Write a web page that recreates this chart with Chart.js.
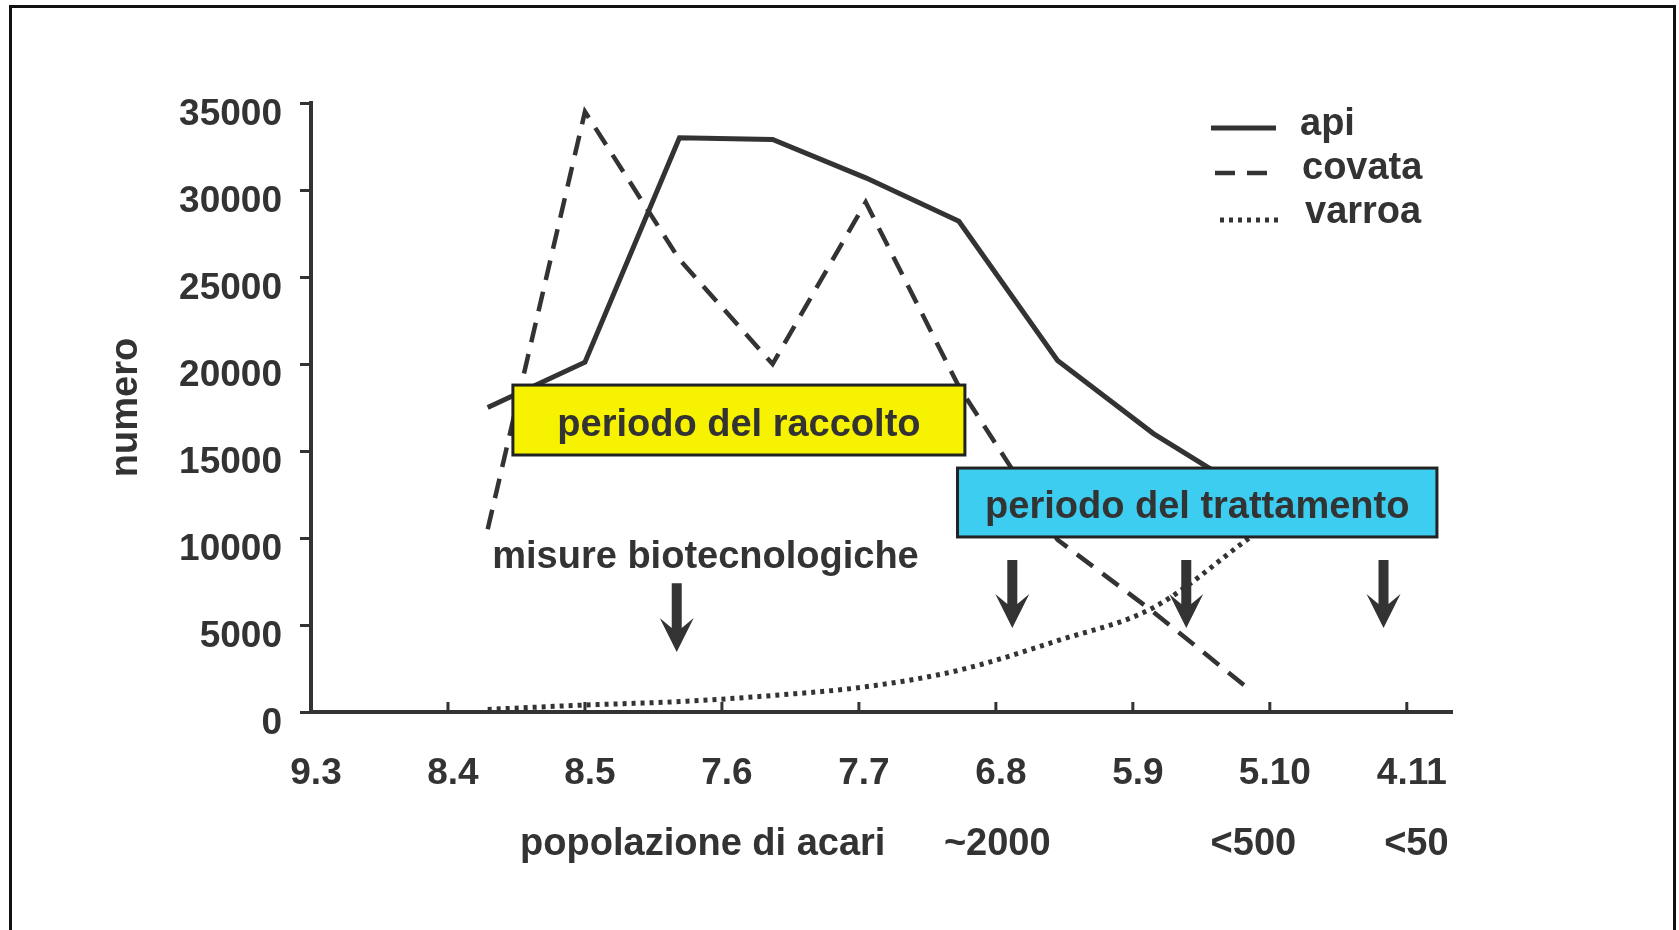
<!DOCTYPE html>
<html>
<head>
<meta charset="utf-8">
<script src="https://cdn.jsdelivr.net/npm/chart.js@4.4.1/dist/chart.umd.min.js"></script>
<style>
  html, body { margin: 0; padding: 0; background: #ffffff; }
  #wrap { position: relative; width: 1679px; height: 930px; overflow: hidden; background: #fff; }
  #c { position: absolute; left: 0; top: 0; }
  #frame { position: absolute; left: 9px; top: 5px; width: 1667px; height: 1000px;
           border: 3px solid #111; box-sizing: border-box; pointer-events: none; }
</style>
</head>
<body>
<div id="wrap">
  <canvas id="c" width="1679" height="930"></canvas>
  <div id="frame"></div>
</div>
<script>
// ---------------- data ----------------
const tickLabels = ['9.3', '8.4', '8.5', '7.6', '7.7', '6.8', '5.9', '5.10', '4.11'];
const sampleX    = [1.29, 2.0, 2.69, 3.37, 4.05, 4.73, 5.45, 6.15, 6.85];
const api        = [17500, 20100, 33000, 32900, 30700, 28200, 20200, 16000, 12600];
const covata     = [10500, 34500, 26000, 20000, 29300, 18700, 9900, 5750, 1300];
const varroa     = [150, 400, 600, 950, 1450, 2400, 4100, 6000, 10000];
const yTicks     = [0, 5000, 10000, 15000, 20000, 25000, 30000, 35000];
const seriesNames = ['api', 'covata', 'varroa'];
const yTitle = 'numero';
const mitePopLabels = ['popolazione di acari', '~2000', '<500', '<50'];
const mitePopX      = [2.86, 5.01, 6.88, 8.07];
const periodLabels  = ['periodo del raccolto', 'periodo del trattamento'];
const periodX       = [[1.474, 4.774], [4.72, 8.22]];
const periodY       = [[14770, 18790], [10060, 14020]];
const measuresLabel = 'misure biotecnologiche';
const measuresAt    = [2.88, 8850];
const arrowX        = [2.67, 5.12, 6.39, 7.83];
const arrowTop      = [7400, 8740, 8740, 8740];
const arrowTip      = [3450, 4830, 4830, 4830];

// ---------------- styles ----------------
const INK = '#333333';
const FONT = "'Liberation Sans', Arial, Helvetica, sans-serif";
const periodColors = ['#f7f200', '#3ccdf0'];

function pts(arr) { return sampleX.map((x, i) => ({ x: x, y: arr[i] })); }

const overlay = {
  id: 'overlay',
  afterDatasetsDraw(chart) {
    const { ctx, scales: { x, y } } = chart;
    ctx.save();
    // inward x ticks
    ctx.strokeStyle = INK; ctx.lineWidth = 3; ctx.setLineDash([]);
    x.ticks.forEach((t, i) => {
      if (i === 0) return;
      const px = x.getPixelForValue(t.value);
      ctx.beginPath(); ctx.moveTo(px, y.bottom); ctx.lineTo(px, y.bottom - 10); ctx.stroke();
    });
    // period boxes
    ctx.font = 'bold 38px ' + FONT;
    ctx.textAlign = 'center'; ctx.textBaseline = 'middle';
    periodLabels.forEach((txt, i) => {
      const x0 = x.getPixelForValue(periodX[i][0]), x1 = x.getPixelForValue(periodX[i][1]);
      const y0 = y.getPixelForValue(periodY[i][1]), y1 = y.getPixelForValue(periodY[i][0]);
      ctx.fillStyle = periodColors[i];
      ctx.fillRect(x0, y0, x1 - x0, y1 - y0);
      ctx.lineWidth = 3; ctx.strokeStyle = '#222';
      ctx.strokeRect(x0, y0, x1 - x0, y1 - y0);
      ctx.fillStyle = INK;
      ctx.fillText(txt, (x0 + x1) / 2, (y0 + y1) / 2 + 5);
    });
    // measures label
    ctx.fillStyle = INK;
    ctx.fillText(measuresLabel, x.getPixelForValue(measuresAt[0]), y.getPixelForValue(measuresAt[1]));
    // arrows
    arrowX.forEach((ax, i) => {
      const px = x.getPixelForValue(ax);
      const top = y.getPixelForValue(arrowTop[i]);
      const tip = y.getPixelForValue(arrowTip[i]);
      ctx.beginPath();
      ctx.moveTo(px, tip);
      ctx.lineTo(px + 17, tip - 34);
      ctx.lineTo(px + 5, tip - 24);
      ctx.lineTo(px + 5, top);
      ctx.lineTo(px - 5, top);
      ctx.lineTo(px - 5, tip - 24);
      ctx.lineTo(px - 17, tip - 34);
      ctx.closePath();
      ctx.fillStyle = INK; ctx.fill();
    });
    // second row under x axis
    ctx.textBaseline = 'middle';
    mitePopLabels.forEach((txt, i) => {
      ctx.fillText(txt, x.getPixelForValue(mitePopX[i]), x.top + 133);
    });
    // legend
    const rows = [
      { lineY: 128, textY: 135, x0: 1211, x1: 1276, tx: 1300 },
      { lineY: 173, textY: 179, x0: 1215, x1: 1274, tx: 1302 },
      { lineY: 220, textY: 223, x0: 1220, x1: 1281, tx: 1305 }
    ];
    chart.data.datasets.forEach((ds, i) => {
      const r = rows[i];
      ctx.strokeStyle = ds.borderColor;
      ctx.lineWidth = ds.borderWidth;
      ctx.setLineDash(ds.borderDash || []);
      ctx.beginPath(); ctx.moveTo(r.x0, r.lineY); ctx.lineTo(r.x1, r.lineY); ctx.stroke();
      ctx.setLineDash([]);
      ctx.textAlign = 'left'; ctx.textBaseline = 'alphabetic';
      ctx.fillStyle = INK;
      ctx.fillText(ds.label, r.tx, r.textY);
    });
    ctx.restore();
  }
};

new Chart(document.getElementById('c'), {
  type: 'line',
  data: {
    datasets: [
      { label: seriesNames[0], data: pts(api), borderColor: INK, borderWidth: 5, pointRadius: 0, fill: false, tension: 0 },
      { label: seriesNames[1], data: pts(covata), borderColor: INK, borderWidth: 4.5, borderDash: [20, 12], pointRadius: 0, fill: false, tension: 0 },
      { label: seriesNames[2], data: pts(varroa), borderColor: INK, borderWidth: 5, borderDash: [4, 5], pointRadius: 0, fill: false, cubicInterpolationMode: 'monotone' }
    ]
  },
  options: {
    responsive: false,
    animation: false,
    devicePixelRatio: 1,
    layout: { padding: { left: 0, top: 103, right: 227, bottom: 0 } },
    plugins: { legend: { display: false }, tooltip: { enabled: false } },
    scales: {
      x: {
        type: 'linear', min: 0, max: 8.33,
        afterBuildTicks: s => { s.ticks = tickLabels.map((_, i) => ({ value: i })); },
        afterFit: s => { s.height = 218; },
        grid: { display: true, drawOnChartArea: false, drawTicks: false },
        border: { display: true, color: INK, width: 4 },
        ticks: {
          callback: v => tickLabels[v],
          font: { family: FONT, size: 37, weight: 'bold' }, color: INK,
          padding: 40, labelOffset: 5, maxRotation: 0, autoSkip: false
        }
      },
      y: {
        min: 0, max: 35000,
        afterBuildTicks: s => { s.ticks = yTicks.map(v => ({ value: v })); },
        afterFit: s => { s.width = 311; },
        grid: { drawOnChartArea: false, drawTicks: true, tickLength: 11, tickWidth: 3, tickColor: INK },
        border: { display: true, color: INK, width: 4 },
        ticks: {
          callback: v => String(v),
          font: { family: FONT, size: 37, weight: 'bold' }, color: INK,
          padding: 18, labelOffset: 12
        },
        title: {
          display: true, text: yTitle, color: INK,
          font: { family: FONT, size: 38, weight: 'bold' },
          padding: { top: 104, bottom: 0 }
        }
      }
    }
  },
  plugins: [overlay]
});
</script>
</body>
</html>
